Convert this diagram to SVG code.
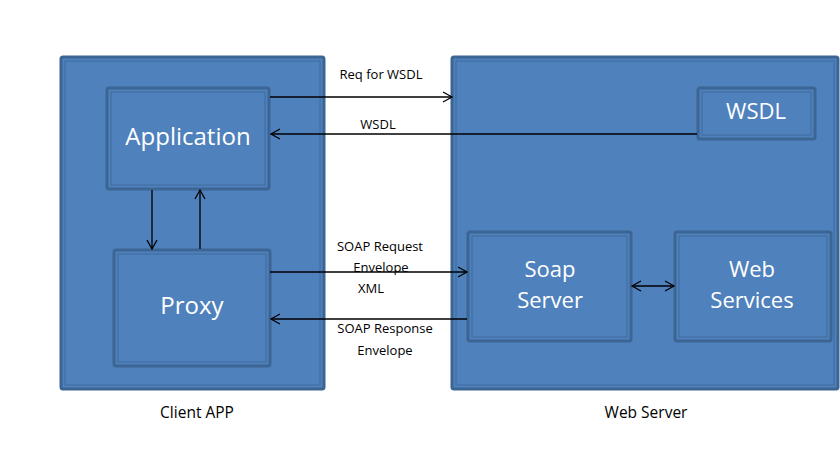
<svg xmlns="http://www.w3.org/2000/svg" width="840" height="456" viewBox="0 0 840 456">
<defs>
<style>
.box{fill:#4f81bd;stroke:#3d6594;stroke-width:3}
.inner{fill:none;stroke:#3f6a9c;stroke-width:1}
.lbl{font-family:"Open Sans","DejaVu Sans",sans-serif;fill:#ffffff;text-anchor:middle}
.t{font-family:"Open Sans","DejaVu Sans",sans-serif;fill:#000000;text-anchor:middle;font-size:13px}
.cap{font-family:"Open Sans","DejaVu Sans",sans-serif;fill:#000000;text-anchor:middle;font-size:15.5px}
.ln{stroke:#000;stroke-width:1.3;fill:none}
</style>
<marker id="ah" markerWidth="12" markerHeight="12" refX="10" refY="6" orient="auto-start-reverse" markerUnits="userSpaceOnUse">
<path d="M1,1 L10,6 L1,11" fill="none" stroke="#000" stroke-width="1.3"/>
</marker>
</defs>
<rect width="840" height="456" fill="#ffffff"/>
<g id="client-app">
<rect class="box" x="61" y="57" width="263" height="332" rx="2"/>
<rect class="inner" x="65" y="61" width="255" height="324"/>
<text class="cap" x="197" y="418">Client APP</text>
</g>
<g id="web-server">
<rect class="box" x="452" y="57" width="386" height="332" rx="2"/>
<rect class="inner" x="456" y="61" width="378" height="324"/>
<text class="cap" x="646" y="418">Web Server</text>
</g>
<g id="application">
<rect class="box" x="107" y="88" width="162" height="101" rx="2"/>
<rect class="inner" x="111" y="92" width="154" height="93"/>
<text class="lbl" x="188" y="145" font-size="24">Application</text>
</g>
<g id="proxy">
<rect class="box" x="114" y="250" width="156" height="116" rx="2"/>
<rect class="inner" x="118" y="254" width="148" height="108"/>
<text class="lbl" x="192" y="314" font-size="24">Proxy</text>
</g>
<g id="wsdl">
<rect class="box" x="698" y="88" width="117" height="51" rx="2"/>
<rect class="inner" x="702" y="92" width="109" height="43"/>
<text class="lbl" x="756" y="119" font-size="22">WSDL</text>
</g>
<g id="soap-server">
<rect class="box" x="468" y="232" width="163" height="109" rx="2"/>
<rect class="inner" x="472" y="236" width="155" height="101"/>
<text class="lbl" font-size="22"><tspan x="550" y="277">Soap</tspan><tspan x="550" y="307.5">Server</tspan></text>
</g>
<g id="web-services">
<rect class="box" x="675" y="232" width="156" height="109" rx="2"/>
<rect class="inner" x="679" y="236" width="148" height="101"/>
<text class="lbl" font-size="22"><tspan x="752" y="277">Web</tspan><tspan x="752" y="307.5">Services</tspan></text>
</g>
<g id="connectors">
<line class="ln" x1="270" y1="97" x2="452" y2="97" marker-end="url(#ah)"/>
<line class="ln" x1="697" y1="134" x2="271" y2="134" marker-end="url(#ah)"/>
<line class="ln" x1="152" y1="190" x2="152" y2="249" marker-end="url(#ah)"/>
<line class="ln" x1="200" y1="249" x2="200" y2="190" marker-end="url(#ah)"/>
<line class="ln" x1="270" y1="272" x2="467" y2="272" marker-end="url(#ah)"/>
<line class="ln" x1="467" y1="319" x2="271" y2="319" marker-end="url(#ah)"/>
<line class="ln" x1="632" y1="286" x2="674" y2="286" marker-start="url(#ah)" marker-end="url(#ah)"/>
<text class="t" x="381" y="79">Req for WSDL</text>
<text class="t" x="378" y="129">WSDL</text>
<text class="t" x="380" y="251">SOAP Request</text>
<text class="t" x="381" y="272">Envelope</text>
<text class="t" x="371" y="293">XML</text>
<text class="t" x="385" y="333">SOAP Response</text>
<text class="t" x="385" y="355">Envelope</text>
</g>
</svg>
